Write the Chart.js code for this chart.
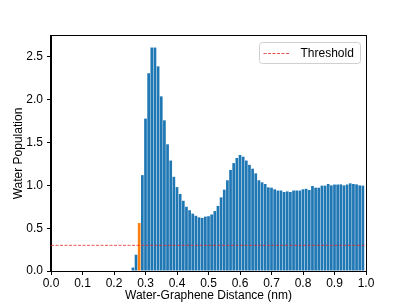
<!DOCTYPE html>
<html><head><meta charset="utf-8">
<script src="https://cdn.jsdelivr.net/npm/chart.js@4.4.1/dist/chart.umd.min.js"></script>
<style>html,body{margin:0;padding:0;background:#fff}#wrap{width:407px;height:305px;position:relative}</style>
</head><body><div id="wrap"><canvas id="c" width="407" height="305"></canvas></div>
<script>
// ---- data ----
const distances = [0.26,0.27,0.28,0.29,0.30,0.31,0.32,0.33,0.34,0.35,0.36,0.37,0.38,0.39,
  0.40,0.41,0.42,0.43,0.44,0.45,0.46,0.47,0.48,0.49,0.50,0.51,0.52,0.53,0.54,0.55,0.56,0.57,
  0.58,0.59,0.60,0.61,0.62,0.63,0.64,0.65,0.66,0.67,0.68,0.69,0.70,0.71,0.72,0.73,0.74,0.75,
  0.76,0.77,0.78,0.79,0.80,0.81,0.82,0.83,0.84,0.85,0.86,0.87,0.88,0.89,0.90,0.91,0.92,0.93,
  0.94,0.95,0.96,0.97,0.98,0.99];
const populations = [0.04,0.19,0.56,1.12,1.78,2.31,2.61,2.61,2.39,2.04,1.76,1.48,1.29,1.10,
  0.98,0.90,0.82,0.75,0.71,0.67,0.645,0.627,0.62,0.635,0.64,0.66,0.70,0.76,0.86,0.95,1.06,1.18,
  1.26,1.32,1.355,1.335,1.29,1.24,1.195,1.14,1.06,1.036,1.016,0.977,0.973,0.954,0.94,0.94,0.923,0.93,
  0.923,0.94,0.94,0.94,0.954,0.96,0.946,0.993,0.973,0.973,0.997,0.997,1.016,1.0,1.01,1.01,1.012,1.0,
  1.01,1.024,1.016,1.012,1.0,0.997];
const threshold = 0.3;
const thresholdLabel = 'Threshold';
const xTickValues = [0.0,0.1,0.2,0.3,0.4,0.5,0.6,0.7,0.8,0.9,1.0];
const yTickValues = [0.0,0.5,1.0,1.5,2.0,2.5];
const xRange = [0, 1];
const yRange = [0, 2.745];
const xTitle = 'Water-Graphene Distance (nm)';
const yTitle = 'Water Population';

// ---- styling ----
const BLUE = '#1f77b4', ORANGE = '#ff7f0e', RED = 'rgba(228,40,40,0.8)';
const FONT = '"Liberation Sans", Arial, Helvetica, sans-serif';
Chart.defaults.font.family = FONT;
Chart.defaults.font.size = 12;
Chart.defaults.color = '#000';

const crossIndex = populations.findIndex(v => v > threshold);
const barPoints = distances.map((d, i) => ({x: d, y: populations[i]}));
const linePoints = xRange.map(x => ({x: x, y: threshold}));

const framePlugin = {
  id: 'frame',
  afterDatasetsDraw(chart) {
    const {ctx, chartArea: a} = chart;
    ctx.save();
    ctx.strokeStyle = '#000';
    ctx.lineWidth = 1;
    const l = Math.round(a.left) - 0.5, r = Math.round(a.right) + 0.5;
    const t = Math.round(a.top) - 0.5, b = Math.round(a.bottom) + 0.5;
    ctx.strokeRect(l, t, r - l, b - t);
    ctx.restore();
  }
};

const legendPlugin = {
  id: 'insideLegend',
  afterDraw(chart) {
    const {ctx, chartArea: a} = chart;
    const w = 101, h = 21;
    const x = Math.round(a.right - 6 - w) + 0.5, y = Math.round(a.top + 6) + 0.5;
    ctx.save();
    ctx.beginPath();
    if (ctx.roundRect) ctx.roundRect(x, y, w, h, 3); else ctx.rect(x, y, w, h);
    ctx.fillStyle = 'rgba(255,255,255,0.8)';
    ctx.fill();
    ctx.strokeStyle = '#d0d0d0';
    ctx.lineWidth = 1;
    ctx.stroke();
    const my = Math.round(y + h / 2);
    ctx.beginPath();
    ctx.setLineDash([3, 1.5]);
    ctx.strokeStyle = RED;
    ctx.moveTo(x + 4, my + 0.5);
    ctx.lineTo(x + 30, my + 0.5);
    ctx.stroke();
    ctx.setLineDash([]);
    ctx.fillStyle = '#000';
    ctx.font = '12px ' + FONT;
    ctx.textBaseline = 'middle';
    ctx.textAlign = 'left';
    ctx.fillText(thresholdLabel, x + 41, my + 1);
    ctx.restore();
  }
};

new Chart(document.getElementById('c'), {
  type: 'bar',
  data: {
    datasets: [
      {
        type: 'line',
        label: thresholdLabel,
        data: linePoints,
        borderColor: RED,
        borderWidth: 1,
        borderDash: [3, 1.5],
        pointRadius: 0,
        fill: false,
        order: 0
      },
      {
        label: 'Population',
        data: barPoints,
        backgroundColor: ctx => ctx.dataIndex === crossIndex ? ORANGE : BLUE,
        borderWidth: 0,
        barPercentage: 0.86,
        categoryPercentage: 1.0,
        order: 1
      }
    ]
  },
  options: {
    responsive: false,
    animation: false,
    devicePixelRatio: 1,
    layout: {padding: {left: 7, right: 41, top: 36, bottom: 0}},
    plugins: {legend: {display: false}, tooltip: {enabled: false}},
    scales: {
      x: {
        type: 'linear',
        min: xRange[0], max: xRange[1],
        offset: false,
        afterBuildTicks: s => { s.ticks = xTickValues.map(v => ({value: v})); },
        afterFit: s => { s.height = 34; },
        ticks: {callback: v => Number(v).toFixed(1), padding: 1, maxRotation: 0, autoSkip: false, color: '#000'},
        grid: {drawOnChartArea: false, drawTicks: true, tickLength: 4, color: '#000', offset: false},
        border: {display: true, color: '#000', width: 1},
        title: {display: true, text: xTitle, color: '#000', font: {size: 12}, padding: {top: 2, bottom: 2}}
      },
      y: {
        type: 'linear',
        min: yRange[0], max: yRange[1],
        afterBuildTicks: s => { s.ticks = yTickValues.map(v => ({value: v})); },
        afterFit: s => { s.width = 44; },
        ticks: {callback: v => Number(v).toFixed(1), padding: 4, color: '#000'},
        grid: {drawOnChartArea: false, drawTicks: true, tickLength: 4, color: '#000'},
        border: {display: true, color: '#000', width: 1},
        title: {display: true, text: yTitle, color: '#000', font: {size: 12}, padding: {top: 4, bottom: 4}}
      }
    }
  },
  plugins: [framePlugin, legendPlugin]
});
</script>
</body></html>
